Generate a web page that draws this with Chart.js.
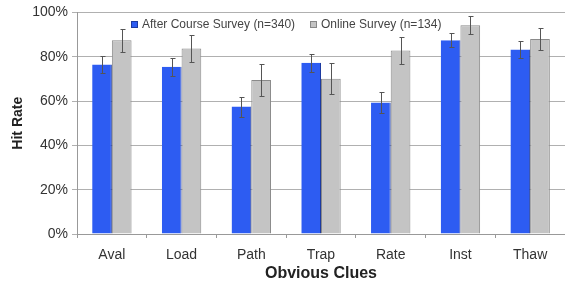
<!DOCTYPE html>
<html>
<head>
<meta charset="utf-8">
<script src="https://cdn.jsdelivr.net/npm/chart.js@4"></script>
<style>
html,body{margin:0;padding:0;background:#fff;}
#wrap{width:565px;height:283px;position:relative;}
</style>
</head>
<body>
<div id="wrap"><canvas id="c" width="565" height="283"></canvas></div>
<script>
const categories = ["Aval","Load","Path","Trap","Rate","Inst","Thaw"];
const afterCourse = [76.5, 75.5, 57.5, 77.3, 59.3, 87.4, 83.3];
const afterCourseErr = [4.0, 4.1, 4.5, 4.0, 4.7, 3.2, 3.7];
const online = [87.4, 83.7, 69.5, 70.1, 82.8, 94.2, 88.0];
const onlineErr = [5.1, 5.9, 7.0, 7.1, 5.9, 4.0, 5.1];
const seriesLabels = ["After Course Survey (n=340)", "Online Survey (n=134)"];
const yTicks = [0, 20, 40, 60, 80, 100];

const errPlugin = {
  id: 'errbars',
  afterDatasetsDraw(chart) {
    const ctx = chart.ctx;
    const y = chart.scales.y;
    const errs = [afterCourseErr, onlineErr];
    ctx.save();
    ctx.strokeStyle = '#555';
    ctx.lineWidth = 1;
    chart.data.datasets.forEach((ds, di) => {
      const meta = chart.getDatasetMeta(di);
      meta.data.forEach((bar, i) => {
        const v = ds.data[i], e = errs[di][i];
        const x = Math.round(bar.x) + 0.5;
        const t = Math.round(y.getPixelForValue(v + e)) + 0.5;
        const b = Math.round(y.getPixelForValue(v - e)) + 0.5;
        ctx.beginPath();
        ctx.moveTo(x, t); ctx.lineTo(x, b);
        ctx.moveTo(x - 2, t); ctx.lineTo(x + 3, t);
        ctx.moveTo(x - 2, b); ctx.lineTo(x + 3, b);
        ctx.stroke();
      });
    });
    ctx.restore();
  }
};

const legendPlugin = {
  id: 'inlegend',
  afterDraw(chart) {
    const ctx = chart.ctx;
    ctx.save();
    ctx.font = '12px "Liberation Sans", Arial, sans-serif';
    ctx.textBaseline = 'middle';
    const items = [
      {x: 131, label: seriesLabels[0], fill: '#2d5cf2', stroke: '#1c3aa0'},
      {x: 310, label: seriesLabels[1], fill: '#c4c4c4', stroke: '#888'}
    ];
    items.forEach(it => {
      ctx.fillStyle = it.fill;
      ctx.fillRect(it.x, 21, 7, 7);
      ctx.strokeStyle = it.stroke;
      ctx.lineWidth = 1;
      ctx.strokeRect(it.x + 0.5, 21.5, 6, 6);
      ctx.fillStyle = '#444';
      ctx.fillText(it.label, it.x + 11, 25);
    });
    ctx.restore();
  }
};

new Chart(document.getElementById('c'), {
  type: 'bar',
  data: {
    labels: categories,
    datasets: [
      {label: seriesLabels[0], data: afterCourse, backgroundColor: '#2d5cf2', borderColor: '#1c3aa0', borderWidth: {left:0, right:1, top:0, bottom:0}, categoryPercentage: 0.565, barPercentage: 1},
      {label: seriesLabels[1], data: online, backgroundColor: '#c4c4c4', borderColor: '#8a8a8a', borderWidth: 1, categoryPercentage: 0.565, barPercentage: 1}
    ]
  },
  options: {
    responsive: false,
    animation: false,
    devicePixelRatio: 1,
    layout: {padding: {top: 11, right: 0, left: 0, bottom: 0}},
    plugins: {legend: {display: false}, tooltip: {enabled: false}},
    scales: {
      x: {
        grid: {drawOnChartArea: false, offset: true, tickLength: 4, color: '#999'},
        border: {display: true, color: '#999'},
        ticks: {color: '#333', font: {family: '"Liberation Sans", Arial, sans-serif', size: 14}, padding: 9},
        title: {display: true, text: 'Obvious Clues', color: '#222', font: {family: '"Liberation Sans", Arial, sans-serif', size: 16, weight: 'bold'}, padding: {top: 1, bottom: 0}},
        afterFit(s) { s.height = 49; }
      },
      y: {
        min: 0, max: 100,
        afterBuildTicks(s) { s.ticks = yTicks.map(v => ({value: v})); },
        grid: {color: '#b0b0b0', tickLength: 5, drawTicks: true},
        border: {display: true, color: '#999'},
        ticks: {color: '#333', font: {family: '"Liberation Sans", Arial, sans-serif', size: 14}, padding: 4, callback: v => v + '%'},
        title: {display: true, text: 'Hit Rate', color: '#222', font: {family: '"Liberation Sans", Arial, sans-serif', size: 14, weight: 'bold'}, padding: {top: 10, bottom: 0}},
        afterFit(s) { s.width = 77; }
      }
    }
  },
  plugins: [errPlugin, legendPlugin]
});
</script>
</body>
</html>
